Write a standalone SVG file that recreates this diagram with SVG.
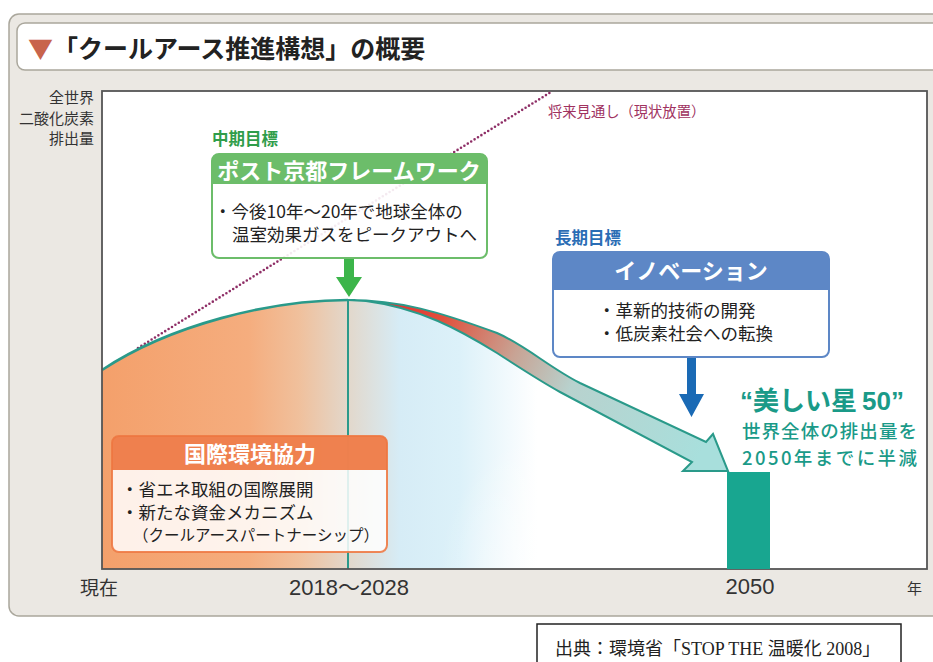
<svg xmlns="http://www.w3.org/2000/svg" width="933" height="662" viewBox="0 0 933 662">
<defs>
<style>
.jp{font-family:"Noto Sans CJK JP","Liberation Sans",sans-serif}
.lat{font-family:"Liberation Sans","Noto Sans CJK JP",sans-serif}
.hdr{font-family:"Noto Sans CJK JP",sans-serif;font-weight:bold;font-size:22px;fill:#fff;text-anchor:middle}
.body{font-family:"Noto Sans CJK JP",sans-serif;font-size:17.5px;fill:#222}
.goal{font-family:"Noto Sans CJK JP",sans-serif;font-weight:bold;font-size:16.5px}
.ax{font-family:"Liberation Sans","Noto Sans CJK JP",sans-serif;font-size:22px;fill:#333}
.ylab{font-family:"Noto Sans CJK JP",sans-serif;font-size:15px;fill:#333;text-anchor:end}
.tl{font-family:"Noto Sans CJK JP",sans-serif;font-size:18.5px;font-weight:500;fill:#1a9a88}
</style>
<linearGradient id="areaGrad" gradientUnits="userSpaceOnUse" x1="102" y1="0" x2="560" y2="0">
<stop offset="0" stop-color="#f4a06b"/>
<stop offset="0.32" stop-color="#f5ad7e"/>
<stop offset="0.43" stop-color="#f0c09c"/>
<stop offset="0.54" stop-color="#e2d8cc"/>
<stop offset="0.65" stop-color="#d6ecf6"/>
<stop offset="0.78" stop-color="#dcf1f9"/>
<stop offset="0.95" stop-color="#ffffff"/>
</linearGradient>
<radialGradient id="fade" gradientUnits="userSpaceOnUse" cx="590" cy="569" r="150">
<stop offset="0" stop-color="#ffffff" stop-opacity="1"/>
<stop offset="1" stop-color="#ffffff" stop-opacity="0"/>
</radialGradient>
<linearGradient id="bandGrad" gradientUnits="userSpaceOnUse" x1="370" y1="302" x2="700" y2="455">
<stop offset="0" stop-color="#e8232b"/>
<stop offset="0.2" stop-color="#e0503c"/>
<stop offset="0.42" stop-color="#c8a394"/>
<stop offset="0.6" stop-color="#b8d2ce"/>
<stop offset="1" stop-color="#a8dfdc"/>
</linearGradient>
</defs>

<!-- panel -->
<rect x="9" y="14" width="940" height="602" rx="10" fill="#ebe8e3" stroke="#aaa79c" stroke-width="1.5"/>

<g id="title">
<rect x="17" y="23" width="935" height="47" rx="8" fill="#ffffff" stroke="#aaa79c" stroke-width="1.5"/>
<text x="28" y="58" class="jp" font-size="25" font-weight="bold" fill="#222"><tspan fill="#c8644c">▼</tspan>「クールアース推進構想」の概要</text>
</g>

<g id="y-axis-label">
<text x="94" y="103" class="ylab">全世界</text>
<text x="94" y="124" class="ylab">二酸化炭素</text>
<text x="94" y="144" class="ylab">排出量</text>
</g>

<!-- plot area background -->
<rect x="102" y="91" width="825" height="478" fill="#ffffff"/>

<g id="forecast-line">
<line x1="138" y1="348" x2="551" y2="92" stroke="#8e2e66" stroke-width="2.6" stroke-dasharray="0 4" stroke-linecap="round"/>
<text x="548" y="117" class="jp" font-size="14.3" fill="#a0325f">将来見通し（現状放置）</text>
</g>

<g id="emission-area">
<path d="M102,370 C170,325 270,300 348,300 L366,301 C420,308 460,330 497,353 C520,368 540,381 560,392 L692,462 L692,569 L102,569 Z" fill="url(#areaGrad)"/>
<path d="M102,370 C170,325 270,300 348,300 L366,301 C420,308 460,330 497,353 C520,368 540,381 560,392 L692,462 L692,569 L102,569 Z" fill="url(#fade)"/>
<line x1="348" y1="301" x2="348" y2="569" stroke="#2a9a8a" stroke-width="2"/>
<path d="M102,370 C170,325 270,300 348,300" fill="none" stroke="#2a9a8a" stroke-width="2.6"/>
<path d="M348,300 C400,300 440,312 497,333 C525,345 550,368 580,383 L706,442 L713,434 L728,471 L683,471 L692,462 L560,392 C540,381 520,368 497,353 C460,330 420,308 366,301 Z" fill="url(#bandGrad)" stroke="#2a9a8a" stroke-width="2" stroke-linejoin="miter"/>
</g>

<!-- plot border -->
<rect x="102" y="91" width="825" height="478" fill="none" stroke="#555" stroke-width="1.8"/>

<g id="target-bar">
<rect x="727" y="472" width="43" height="97" fill="#18a690"/>
</g>

<g id="connectors">
<path d="M344,258 L354,258 L354,277 L362,277 L349,297 L336,277 L344,277 Z" fill="#3cb54a"/>
<path d="M687,357 L696,357 L696,394 L704,394 L691.5,417 L679,394 L687,394 Z" fill="#1a6ab5"/>
</g>

<g id="mid-term">
<text x="212" y="145" class="goal" fill="#2f9d4a">中期目標</text>
<rect x="212" y="154" width="275" height="104" rx="7" fill="#ffffff" fill-opacity="0.9" stroke="#6cbd6a" stroke-width="2"/>
<path d="M212,184 L212,161 Q212,154 219,154 L480,154 Q487,154 487,161 L487,184 Z" fill="#6cbd6a"/>
<text x="349" y="179" class="hdr">ポスト京都フレームワーク</text>
<text x="214" y="218" class="body">・今後10年～20年で地球全体の</text>
<text x="232" y="241" class="body">温室効果ガスをピークアウトへ</text>
</g>

<g id="long-term">
<text x="555" y="244" class="goal" fill="#2a6db5">長期目標</text>
<rect x="553" y="252" width="276" height="105" rx="7" fill="#ffffff" stroke="#5d87c6" stroke-width="2"/>
<path d="M553,290 L553,259 Q553,252 560,252 L822,252 Q829,252 829,259 L829,290 Z" fill="#5d87c6"/>
<text x="691" y="279" class="hdr">イノベーション</text>
<text x="598" y="317" class="body">・革新的技術の開発</text>
<text x="598" y="340" class="body">・低炭素社会への転換</text>
</g>

<g id="intl-coop">
<rect x="112" y="436" width="275" height="116" rx="7" fill="#ffffff" fill-opacity="0.85" stroke="#ee7a45" stroke-width="2" stroke-opacity="0.9"/>
<path d="M112,470 L112,443 Q112,436 119,436 L380,436 Q387,436 387,443 L387,470 Z" fill="#ee7640" fill-opacity="0.92"/>
<text x="250" y="462" class="hdr">国際環境協力</text>
<text x="121" y="496" class="body">・省エネ取組の国際展開</text>
<text x="121" y="519" class="body">・新たな資金メカニズム</text>
<text x="133" y="541" class="jp" font-size="15.5" fill="#222">（クールアースパートナーシップ）</text>
</g>

<g id="goal-2050">
<text x="740" y="410" class="lat" font-size="26" font-weight="bold" fill="#1a9a88">“美しい星<tspan dx="5">50</tspan>”</text>
<text x="742" y="438" class="tl" textLength="175" lengthAdjust="spacing">世界全体の排出量を</text>
<text x="742" y="465" class="tl" textLength="175" lengthAdjust="spacing">2050年までに半減</text>
</g>

<g id="x-axis">
<text x="80" y="595" class="jp" font-size="19" fill="#333">現在</text>
<text x="349" y="595" class="ax" text-anchor="middle">2018～2028</text>
<text x="750" y="594" class="ax" text-anchor="middle">2050</text>
<text x="907" y="594" class="jp" font-size="15" fill="#333">年</text>
</g>

<g id="source">
<rect x="537" y="624" width="364" height="45" fill="#ffffff" stroke="#222" stroke-width="1.5"/>
<text x="555" y="655" font-family="Liberation Serif, Noto Sans CJK JP, serif" font-size="18" fill="#222">出典：環境省「STOP THE 温暖化 2008」</text>
</g>
</svg>
